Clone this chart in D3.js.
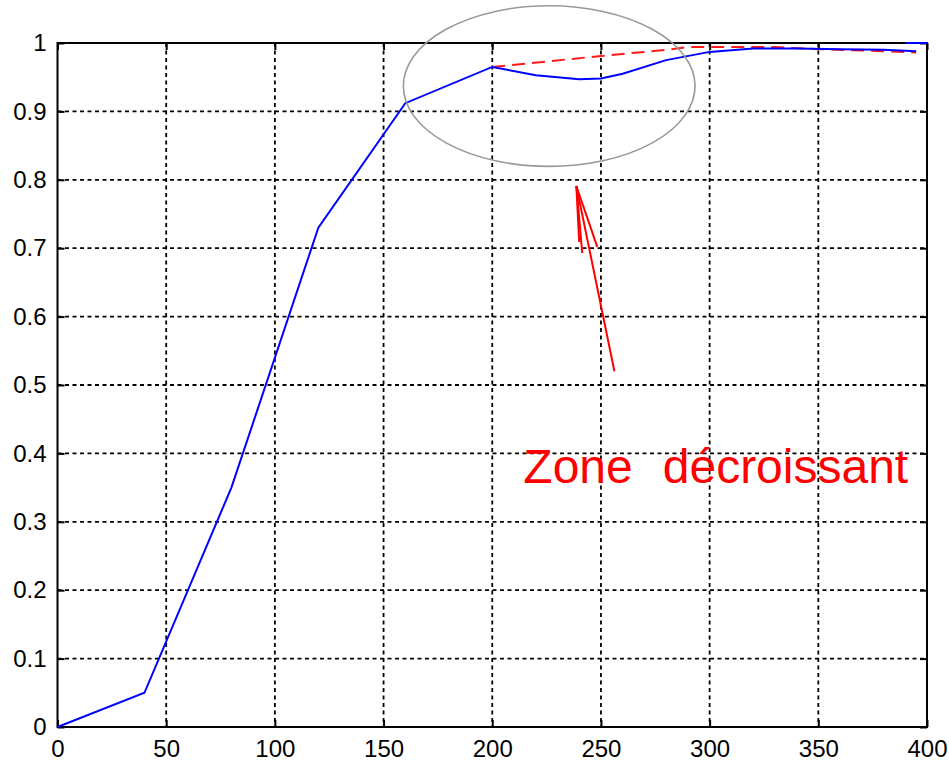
<!DOCTYPE html>
<html>
<head>
<meta charset="utf-8">
<script src="https://cdn.jsdelivr.net/npm/d3@7"></script>
<style>
  html, body { margin: 0; padding: 0; background: #fff; }
  svg { display: block; }
</style>
</head>
<body>
<svg id="chart" width="949" height="764"></svg>
<script>
// ---- data ----
const xTicks = [0, 50, 100, 150, 200, 250, 300, 350, 400];
const yTicks = [0, 0.1, 0.2, 0.3, 0.4, 0.5, 0.6, 0.7, 0.8, 0.9, 1];
const yTickLabels = ["0", "0.1", "0.2", "0.3", "0.4", "0.5", "0.6", "0.7", "0.8", "0.9", "1"];

const blueX = [0, 40, 80, 120, 160, 200, 220, 240, 250, 260, 280, 300, 320, 340, 360, 380, 395];
const blueY = [0, 0.05, 0.35, 0.73, 0.912, 0.965, 0.953, 0.947, 0.948, 0.955, 0.975, 0.987, 0.992, 0.992, 0.991, 0.99, 0.988];

const topX = [390, 400];
const topY = [1, 1];

const redX = [200, 225, 250, 280, 290, 330, 350, 380, 395];
const redY = [0.965, 0.973, 0.981, 0.99, 0.994, 0.994, 0.991, 0.988, 0.986];

// annotation (data coordinates)
const ellipseCenter = [226.2, 0.937];
const ellipseRadii = [67.1, 0.1174];
const arrowTip = [238.7, 0.791];
const arrowTail = [256.2, 0.52];
const arrowBarbs = [[241.4, 0.693], [240.0, 0.709], [248.3, 0.702]];
const annotationWords = ["Zone", "décroissant"];
const annotationPos = [214.3, 0.357];

// ---- layout ----
const svg = d3.select("#chart");
const mLeft = 57.5, mRight = 927, mTop = 43, mBottom = 727;

const x = d3.scaleLinear().domain([0, 400]).range([mLeft, mRight]);
const y = d3.scaleLinear().domain([0, 1]).range([mBottom, mTop]);

// grid
const grid = svg.append("g");
grid.selectAll("line.vg").data(xTicks.slice(1, -1)).enter().append("line")
  .attr("x1", d => x(d)).attr("x2", d => x(d))
  .attr("y1", mTop).attr("y2", mBottom)
  .attr("stroke", "#000").attr("stroke-width", 1.8).attr("stroke-dasharray", "4,3.5");
grid.selectAll("line.hg").data(yTicks.slice(1, -1)).enter().append("line")
  .attr("y1", d => y(d)).attr("y2", d => y(d))
  .attr("x1", mLeft).attr("x2", mRight)
  .attr("stroke", "#000").attr("stroke-width", 1.8).attr("stroke-dasharray", "4,3.5");

// axes (matlab box style, inward ticks on all sides)
const tickLen = 7;
const axB = d3.axisBottom(x).tickValues(xTicks).tickSizeInner(-tickLen).tickSizeOuter(0).tickPadding(13).tickFormat(d3.format("d"));
const axT = d3.axisTop(x).tickValues(xTicks).tickSizeInner(-tickLen).tickSizeOuter(0).tickFormat("");
const axL = d3.axisLeft(y).tickValues(yTicks).tickSizeInner(-tickLen).tickSizeOuter(0).tickPadding(11)
  .tickFormat((d, i) => yTickLabels[i]);
const axR = d3.axisRight(y).tickValues(yTicks).tickSizeInner(-tickLen).tickSizeOuter(0).tickFormat("");

function styleAxis(g) {
  g.select(".domain").remove();
  g.selectAll(".tick line").attr("stroke", "#000").attr("stroke-width", 2);
  g.selectAll(".tick text").attr("fill", "#000")
    .style("font-family", "'Liberation Sans', Arial, sans-serif").style("font-size", "24px");
}
svg.append("g").attr("transform", `translate(0,${mBottom})`).call(axB).call(styleAxis);
svg.append("g").attr("transform", `translate(0,${mTop})`).call(axT).call(styleAxis);
svg.append("g").attr("transform", `translate(${mLeft},0)`).call(axL).call(styleAxis);
svg.append("g").attr("transform", `translate(${mRight},0)`).call(axR).call(styleAxis);

svg.append("rect").attr("x", mLeft).attr("y", mTop)
  .attr("width", mRight - mLeft).attr("height", mBottom - mTop)
  .attr("fill", "none").attr("stroke", "#000").attr("stroke-width", 2);

// series
const line = d3.line().x(d => x(d[0])).y(d => y(d[1]));
svg.append("path").datum(redX.map((v, i) => [v, redY[i]]))
  .attr("d", line).attr("fill", "none").attr("stroke", "#ff1a1a")
  .attr("stroke-width", 2).attr("stroke-dasharray", "13,7");
svg.append("path").datum(blueX.map((v, i) => [v, blueY[i]]))
  .attr("d", line).attr("fill", "none").attr("stroke", "#0000ff").attr("stroke-width", 2);
svg.append("path").datum(topX.map((v, i) => [v, topY[i]]))
  .attr("d", line).attr("fill", "none").attr("stroke", "#0000ff").attr("stroke-width", 2);

// annotation ellipse
svg.append("ellipse")
  .attr("cx", x(ellipseCenter[0])).attr("cy", y(ellipseCenter[1]))
  .attr("rx", x(ellipseCenter[0] + ellipseRadii[0]) - x(ellipseCenter[0]))
  .attr("ry", y(ellipseCenter[1]) - y(ellipseCenter[1] + ellipseRadii[1]))
  .attr("fill", "none").attr("stroke", "#999").attr("stroke-width", 1.6);

// arrow
const arrowG = svg.append("g").attr("stroke", "#ff0000").attr("stroke-width", 2).attr("fill", "none");
arrowG.append("line")
  .attr("x1", x(arrowTip[0])).attr("y1", y(arrowTip[1]))
  .attr("x2", x(arrowTail[0])).attr("y2", y(arrowTail[1]));
arrowG.selectAll("line.barb").data(arrowBarbs).enter().append("line")
  .attr("x1", x(arrowTip[0])).attr("y1", y(arrowTip[1]))
  .attr("x2", d => x(d[0])).attr("y2", d => y(d[1]));

// annotation text
const t = svg.append("text")
  .attr("x", x(annotationPos[0])).attr("y", y(annotationPos[1]))
  .attr("fill", "#ff0000")
  .style("font-family", "'Liberation Sans', Arial, sans-serif")
  .style("font-size", "48px");
t.append("tspan").text(annotationWords[0]);
t.append("tspan").attr("dx", 30).text(annotationWords[1]);
</script>
</body>
</html>
